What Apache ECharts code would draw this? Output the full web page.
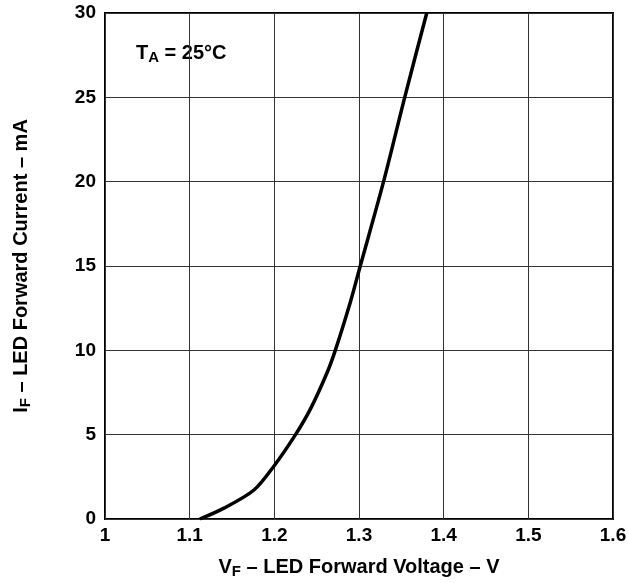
<!DOCTYPE html>
<html>
<head>
<meta charset="utf-8">
<script src="https://cdn.jsdelivr.net/npm/echarts@6/dist/echarts.min.js"></script>
<style>
  html, body { margin: 0; padding: 0; background: #fff; }
  #chart { width: 629px; height: 583px; }
</style>
</head>
<body>
<div id="chart"></div>
<script>
// forward voltage (V) vs forward current (mA)
var vf = [1.112, 1.14, 1.176, 1.199, 1.225, 1.243, 1.262, 1.272, 1.29, 1.3015, 1.329, 1.354, 1.38];
var iF = [0, 0.63, 1.72, 3.1, 5.0, 6.56, 8.64, 10.0, 12.9, 15.0, 20.0, 25.0, 30.0];
var xTicks = [1, 1.1, 1.2, 1.3, 1.4, 1.5, 1.6];
var yTicks = [0, 5, 10, 15, 20, 25, 30];

var pts = [];
for (var i = 0; i < vf.length; i++) {
    pts.push([vf[i], iF[i]]);
}

var font = 'Liberation Sans, Arial, sans-serif';
var richName = {
    b: { fontFamily: font, fontWeight: 'bold', fontSize: 20, color: '#000' },
    s: { fontFamily: font, fontWeight: 'bold', fontSize: 15, color: '#000', verticalAlign: 'bottom', padding: [9, 0, 0, 0] }
};

var myChart = echarts.init(document.getElementById('chart'));
var option = {
    animation: false,
    backgroundColor: '#fff',
    grid: {
        left: 105, right: 16, top: 13, bottom: 64,
        outerBoundsMode: 'none',
        show: true, borderColor: '#000', borderWidth: 2
    },
    xAxis: {
        type: 'value',
        min: xTicks[0],
        max: xTicks[xTicks.length - 1],
        interval: 0.1,
        axisLine: { show: false },
        axisTick: { show: false },
        axisLabel: {
            margin: 7,
            fontFamily: font, fontWeight: 'bold', fontSize: 19, color: '#000',
            formatter: function (v) { return String(Math.round(v * 10) / 10); }
        },
        splitLine: { lineStyle: { color: '#333', width: 1 } },
        name: '{b|V}{s|F}{b| – LED Forward Voltage – V}',
        nameLocation: 'middle',
        nameGap: 36,
        nameTextStyle: { rich: richName }
    },
    yAxis: {
        type: 'value',
        min: yTicks[0],
        max: yTicks[yTicks.length - 1],
        interval: 5,
        axisLine: { show: false },
        axisTick: { show: false },
        axisLabel: { margin: 9, fontFamily: font, fontWeight: 'bold', fontSize: 19, color: '#000' },
        splitLine: { lineStyle: { color: '#333', width: 1 } },
        name: '{b|I}{s|F}{b| – LED Forward Current – mA}',
        nameLocation: 'middle',
        nameGap: 72,
        nameTextStyle: { rich: richName }
    },
    graphic: [{
        type: 'text',
        left: 136,
        top: 43,
        style: {
            text: '{b|T}{s|A}{b| = 25°C}',
            rich: {
                b: { fontFamily: font, fontWeight: 'bold', fontSize: 20, fill: '#000' },
                s: { fontFamily: font, fontWeight: 'bold', fontSize: 15, fill: '#000', verticalAlign: 'bottom', padding: [9, 0, 0, 0] }
            }
        }
    }],
    series: [{
        type: 'line',
        data: pts,
        smooth: 0.3,
        showSymbol: false,
        lineStyle: { color: '#000', width: 3.5 }
    }]
};
myChart.setOption(option);
</script>
</body>
</html>
